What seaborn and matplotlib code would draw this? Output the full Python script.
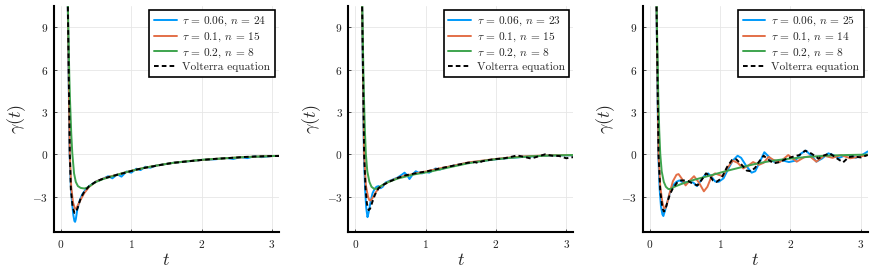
import matplotlib
matplotlib.use("Agg")
import matplotlib.pyplot as plt
import seaborn as sns

# ---- data ------------------------------------------------------------------
# panel 1 : tau = 0.06 (n=24), 0.1 (n=15), 0.2 (n=8), Volterra
t1_blue = [0.09, 0.122, 0.14, 0.16, 0.175, 0.19, 0.2, 0.21, 0.23, 0.26, 0.3, 0.35, 0.4, 0.5, 0.6,
           0.67, 0.73, 0.8, 0.86, 0.93, 1.0, 1.07, 1.13, 1.2, 1.27, 1.35, 1.45, 1.6, 1.8, 2.0, 2.2,
           2.35, 2.45, 2.55, 2.65, 2.75, 2.85, 3.0, 3.1]
g1_blue = [13.0, 0.0, -2.3, -3.6, -4.3, -4.72, -4.78, -4.6, -3.95, -3.35, -2.85, -2.5, -2.25, -1.92, -1.72,
           -1.55, -1.7, -1.42, -1.58, -1.22, -1.3, -1.02, -1.12, -0.88, -0.95, -0.8, -0.72, -0.6, -0.5, -0.4, -0.35,
           -0.26, -0.33, -0.2, -0.27, -0.14, -0.2, -0.12, -0.12]
t1_orange = [0.09, 0.124, 0.145, 0.17, 0.195, 0.215, 0.24, 0.28, 0.33, 0.4, 0.5, 0.6, 0.7, 0.8, 0.9, 1.0,
             1.2, 1.4, 1.6, 1.8, 2.0, 2.3, 2.6, 2.9, 3.1]
g1_orange = [13.0, 0.0, -2.3, -3.4, -3.8, -3.85, -3.6, -3.2, -2.75, -2.3, -1.92, -1.72, -1.57, -1.44, -1.3, -1.17,
             -0.94, -0.76, -0.6, -0.49, -0.4, -0.29, -0.2, -0.14, -0.11]
t1_green = [0.09, 0.105, 0.118, 0.128, 0.145, 0.16, 0.185, 0.21, 0.24, 0.28, 0.33, 0.38, 0.45, 0.5, 0.6,
            0.7, 0.8, 0.9, 1.0, 1.2, 1.4, 1.6, 1.8, 2.0, 2.3, 2.6, 2.9, 3.1]
g1_green = [13.0, 8.5, 5.5, 3.8, 1.5, 0.1, -1.35, -1.95, -2.25, -2.38, -2.42, -2.35, -2.1, -1.95, -1.75,
            -1.6, -1.45, -1.3, -1.17, -0.94, -0.76, -0.6, -0.49, -0.39, -0.29, -0.2, -0.14, -0.11]
t1_volt = [0.09, 0.125, 0.14, 0.165, 0.19, 0.21, 0.24, 0.28, 0.33, 0.4, 0.5, 0.6, 0.7, 0.8, 0.9, 1.0, 1.1,
           1.2, 1.3, 1.4, 1.5, 1.6, 1.8, 2.0, 2.2, 2.4, 2.6, 2.8, 3.0, 3.1]
g1_volt = [13.0, 0.0, -2.5, -3.7, -4.15, -4.1, -3.75, -3.1, -2.65, -2.25, -1.92, -1.72, -1.58, -1.45, -1.32, -1.18, -1.05,
           -0.95, -0.86, -0.77, -0.68, -0.6, -0.5, -0.4, -0.32, -0.26, -0.19, -0.15, -0.12, -0.12]

# panel 2 : tau = 0.06 (n=23), 0.1 (n=15), 0.2 (n=8), Volterra
t2_blue = [0.09, 0.122, 0.14, 0.155, 0.173, 0.19, 0.215, 0.245, 0.275, 0.3, 0.33, 0.36, 0.39, 0.43, 0.5, 0.6,
           0.66, 0.7, 0.74, 0.77, 0.82, 0.86, 0.9, 0.95, 1.0, 1.05, 1.1, 1.14, 1.2, 1.3, 1.4, 1.5, 1.6, 1.8,
           2.0, 2.2, 2.4, 2.6, 2.8, 3.0, 3.1]
g2_blue = [13.0, 0.0, -2.6, -3.8, -4.45, -4.1, -3.4, -2.75, -2.45, -2.3, -2.25, -2.4, -2.3, -2.0, -1.85, -1.65,
           -1.45, -1.3, -1.5, -1.75, -1.4, -1.2, -1.3, -1.35, -1.25, -1.3, -1.15, -1.0, -1.08, -0.92, -0.8, -0.7, -0.6, -0.47,
           -0.35, -0.25, -0.18, -0.12, -0.08, -0.07, -0.07]
t2_orange = [0.09, 0.125, 0.15, 0.18, 0.2, 0.22, 0.25, 0.29, 0.33, 0.4, 0.5, 0.6, 0.7, 0.8, 0.9, 1.0, 1.2,
             1.4, 1.6, 1.8, 2.0, 2.2, 2.4, 2.6, 2.8, 3.0, 3.1]
g2_orange = [13.0, 0.0, -2.2, -3.0, -3.25, -3.27, -3.05, -2.7, -2.4, -2.15, -1.88, -1.68, -1.52, -1.42, -1.32, -1.22, -1.0,
             -0.8, -0.58, -0.45, -0.33, -0.22, -0.15, -0.1, -0.07, -0.06, -0.06]
t2_green = [0.09, 0.105, 0.12, 0.135, 0.15, 0.17, 0.2, 0.23, 0.27, 0.31, 0.36, 0.45, 0.6, 0.84, 1.07, 1.31,
            1.6, 1.8, 2.0, 2.2, 2.5, 2.8, 3.1]
g2_green = [13.0, 8.5, 4.5, 1.8, 0.0, -1.2, -1.95, -2.3, -2.45, -2.42, -2.25, -2.0, -1.72, -1.42, -1.22, -0.95,
            -0.64, -0.48, -0.35, -0.25, -0.14, -0.08, -0.05]
t2_volt = [0.09, 0.125, 0.145, 0.165, 0.19, 0.21, 0.24, 0.28, 0.33, 0.4, 0.5, 0.6, 0.7, 0.8, 0.9, 1.0, 1.1,
           1.2, 1.3, 1.4, 1.5, 1.6, 1.7, 1.75, 1.8, 1.9, 2.0, 2.1, 2.2, 2.3, 2.4, 2.5, 2.6, 2.7, 2.8, 2.9,
           3.0, 3.1]
g2_volt = [13.0, 0.0, -2.4, -3.5, -3.95, -3.85, -3.4, -2.85, -2.4, -2.15, -1.9, -1.68, -1.5, -1.4, -1.3, -1.22, -1.12,
           -1.0, -0.9, -0.8, -0.7, -0.6, -0.55, -0.62, -0.5, -0.4, -0.33, -0.3, -0.2, -0.08, -0.18, -0.3, -0.15, 0.0, -0.1, -0.12,
           -0.28, -0.2]

# panel 3 : tau = 0.06 (n=25), 0.1 (n=14), 0.2 (n=8), Volterra
t3_blue = [0.09, 0.122, 0.14, 0.16, 0.18, 0.194, 0.21, 0.24, 0.265, 0.3, 0.336, 0.38, 0.42, 0.48, 0.55, 0.62,
           0.67, 0.72, 0.78, 0.83, 0.88, 0.93, 0.98, 1.05, 1.12, 1.18, 1.25, 1.3, 1.37, 1.45, 1.5, 1.56, 1.63,
           1.69, 1.76, 1.88, 1.98, 2.07, 2.15, 2.22, 2.3, 2.37, 2.45, 2.54, 2.61, 2.68, 2.77, 2.85, 2.93,
           3.02, 3.1]
g3_blue = [13.0, 0.0, -2.4, -3.7, -4.25, -4.37, -4.1, -3.6, -3.1, -2.5, -2.17, -1.95, -1.85, -2.0, -1.95, -2.0,
           -2.25, -1.9, -1.5, -1.35, -1.6, -1.92, -1.95, -1.7, -1.0, -0.45, -0.1, -0.25, -0.8, -1.3, -1.2, -0.6, 0.15,
           -0.15, -0.52, -0.42, -0.55, -0.45, 0.05, 0.26, -0.1, -0.52, -0.3, 0.07, -0.05, -0.28, -0.1, -0.05, -0.25,
           -0.05, 0.2]
t3_orange = [0.09, 0.125, 0.15, 0.18, 0.2, 0.218, 0.24, 0.28, 0.33, 0.38, 0.41, 0.46, 0.51, 0.57, 0.63, 0.7,
             0.77, 0.82, 0.88, 0.93, 0.98, 1.04, 1.1, 1.18, 1.25, 1.33, 1.4, 1.47, 1.55, 1.62, 1.69, 1.76,
             1.85, 1.97, 2.09, 2.2, 2.28, 2.37, 2.48, 2.6, 2.72, 2.85, 2.95, 3.1]
g3_orange = [13.0, 0.0, -2.3, -3.4, -3.75, -3.83, -3.6, -2.8, -1.9, -1.45, -1.4, -1.75, -2.2, -1.85, -1.55, -2.0,
             -2.62, -2.3, -1.55, -1.35, -1.45, -1.55, -1.0, -0.45, -0.6, -1.0, -0.8, -0.55, -0.75, -0.6, -0.18, -0.4,
             -0.55, -0.05, -0.52, -0.2, -0.15, -0.52, -0.1, -0.25, -0.05, -0.28, -0.2, -0.05]
t3_green = [0.09, 0.105, 0.12, 0.135, 0.15, 0.17, 0.2, 0.23, 0.265, 0.3, 0.35, 0.45, 0.62, 0.86, 1.09, 1.33,
            1.54, 1.75, 2.0, 2.25, 2.5, 2.8, 3.1]
g3_green = [13.0, 8.5, 4.5, 1.7, 0.0, -1.2, -1.95, -2.3, -2.46, -2.45, -2.3, -2.1, -1.82, -1.5, -1.18, -0.88,
            -0.64, -0.45, -0.3, -0.18, -0.1, -0.05, -0.02]
t3_volt = [0.09, 0.125, 0.15, 0.18, 0.2, 0.22, 0.25, 0.29, 0.33, 0.39, 0.44, 0.5, 0.55, 0.62, 0.68, 0.74,
           0.8, 0.85, 0.9, 0.95, 1.02, 1.1, 1.17, 1.23, 1.3, 1.38, 1.44, 1.5, 1.55, 1.62, 1.68, 1.76, 1.85,
           1.95, 2.05, 2.13, 2.21, 2.3, 2.4, 2.47, 2.56, 2.65, 2.75, 2.83, 2.9, 3.0, 3.1]
g3_volt = [13.0, 0.0, -2.6, -3.8, -4.05, -3.95, -3.4, -2.8, -2.4, -2.0, -1.85, -1.85, -1.9, -2.1, -2.2, -1.8,
           -1.35, -1.5, -1.85, -1.95, -1.7, -0.9, -0.4, -0.35, -0.7, -1.15, -1.2, -0.95, -0.55, -0.1, -0.35, -0.64, -0.55,
           -0.3, -0.15, -0.05, 0.26, 0.05, -0.3, -0.1, 0.07, -0.25, -0.57, -0.2, -0.15, -0.22, -0.05]

labels = [
    [r"$\tau\,=\,0.06$, $n\,=\,24$", r"$\tau\,=\,0.1$, $n\,=\,15$", r"$\tau\,=\,0.2$, $n\,=\,8$"],
    [r"$\tau\,=\,0.06$, $n\,=\,23$", r"$\tau\,=\,0.1$, $n\,=\,15$", r"$\tau\,=\,0.2$, $n\,=\,8$"],
    [r"$\tau\,=\,0.06$, $n\,=\,25$", r"$\tau\,=\,0.1$, $n\,=\,14$", r"$\tau\,=\,0.2$, $n\,=\,8$"],
]
panels = [
    [(t1_blue, g1_blue), (t1_orange, g1_orange), (t1_green, g1_green), (t1_volt, g1_volt)],
    [(t2_blue, g2_blue), (t2_orange, g2_orange), (t2_green, g2_green), (t2_volt, g2_volt)],
    [(t3_blue, g3_blue), (t3_orange, g3_orange), (t3_green, g3_green), (t3_volt, g3_volt)],
]
colors = ["#009AFA", "#E36F47", "#3EA44E"]

sns.set_style("whitegrid")
plt.rcParams["font.family"] = ["cmr10", "DejaVu Serif"]
plt.rcParams["mathtext.fontset"] = "cm"
plt.rcParams["axes.formatter.use_mathtext"] = True
plt.rcParams["axes.unicode_minus"] = True

fig = plt.figure(figsize=(8.75, 2.73), dpi=100)
lefts = [54, 348.3, 642.7]

for k in range(3):
    ax = fig.add_axes([lefts[k] / 875, 41 / 273, 225 / 875, 226 / 273])
    for i in range(3):
        t, g = panels[k][i]
        sns.lineplot(x=t, y=g, ax=ax, color=colors[i], lw=1.4, label=labels[k][i], sort=False)
    t, g = panels[k][3]
    sns.lineplot(x=t, y=g, ax=ax, color="black", lw=1.4, linestyle=(0, (2.4, 1.6)),
                 label="Volterra equation", sort=False)

    ax.set_xlim(-0.1, 3.1)
    ax.set_ylim(-5.5, 10.5)
    ax.set_xticks([0, 1, 2, 3])
    ax.set_yticks([-3, 0, 3, 6, 9])
    ax.grid(True, color="#e6e6e6", lw=0.6)
    for s in ["top", "right"]:
        ax.spines[s].set_visible(False)
    for s in ["left", "bottom"]:
        ax.spines[s].set_color("black")
        ax.spines[s].set_linewidth(1.5)
    ax.tick_params(direction="in", length=2.5, width=0.6, colors="#333333", labelsize=8.2,
                   labelcolor="#222222", pad=4, left=True, bottom=True)
    ax.set_xlabel(r"$t$", fontsize=13, labelpad=2)
    ax.set_ylabel(r"$\gamma(t)$", fontsize=13, labelpad=3)

    leg = ax.legend(loc="upper right", fontsize=8.2, frameon=True, fancybox=False,
                    edgecolor="black", framealpha=1, handlelength=2.0, handletextpad=0.5,
                    labelspacing=0.22, borderpad=0.4, borderaxespad=0.35)
    leg.get_frame().set_linewidth(1.2)

fig.savefig("out.png", dpi=100)
